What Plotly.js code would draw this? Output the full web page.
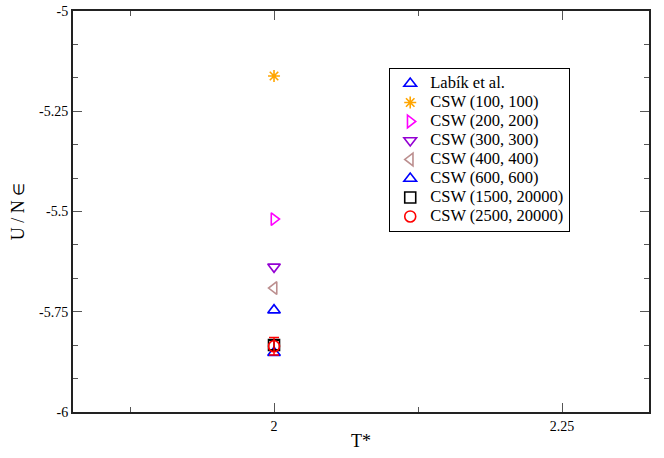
<!DOCTYPE html>
<html>
<head>
<meta charset="utf-8">
<script src="https://cdn.plot.ly/plotly-3.0.1.min.js"></script>
<style>html,body{margin:0;padding:0;background:#fff;}#chart{width:664px;height:458px;}</style>
</head>
<body>
<div id="chart"></div>
<script>
const seriesNames = ["Labík et al.", "CSW (100, 100)", "CSW (200, 200)", "CSW (300, 300)", "CSW (400, 400)", "CSW (600, 600)", "CSW (1500, 20000)", "CSW (2500, 20000)"];
const temperatures = [2, 2, 2, 2, 2, 2, 2, 2];
const energies = [-5.852, -5.162, -5.519, -5.638, -5.691, -5.746, -5.833, -5.836];
const energyErrors = [0, 0, 0, 0, 0, 0, 0.012, 0.022];
const symbols = ["triangle-up-open", "asterisk-open", "triangle-right-open", "triangle-down-open", "triangle-left-open", "triangle-up-open", "square-open", "circle-open"];
const colors = ["#0000ff", "#ffa500", "#ff00ff", "#9400d3", "#bc8f8f", "#0000ff", "#000000", "#ff0000"];
const yTickVals = [-6, -5.75, -5.5, -5.25, -5];
const yTickText = ["-6", "-5.75", "-5.5", "-5.25", "-5"];
const xTickVals = [2, 2.25];
const xTickText = ["2", "2.25"];

const font = "Liberation Serif, Times New Roman, serif";
const traces = seriesNames.map((name, i) => ({
  type: "scatter",
  mode: "markers",
  name: "<span style='font-size:16.5px'>" + name + "</span>",
  x: [temperatures[i]],
  y: [energies[i]],
  error_y: energyErrors[i] > 0 ? {type: "data", array: [energyErrors[i]], visible: true, color: colors[i], thickness: 1.5, width: 5} : {visible: false},
  marker: {symbol: symbols[i], color: colors[i], size: i === 1 ? 10 : 11, line: {color: colors[i], width: 1.6}}
}));

const layout = {
  width: 664, height: 458,
  margin: {l: 73, r: 15, t: 11, b: 46},
  paper_bgcolor: "#fff", plot_bgcolor: "#fff",
  font: {family: font, size: 14, color: "#000"},
  showlegend: true,
  legend: {
    x: 0.549, y: 0.858, xanchor: "left", yanchor: "top",
    bgcolor: "#fff", bordercolor: "#000", borderwidth: 1,
    font: {family: font, size: 12, color: "#000"},
    tracegroupgap: 0
  },
  xaxis: {
    range: [1.8255, 2.3255],
    tickvals: xTickVals, ticktext: xTickText,
    ticks: "inside", ticklen: 9, tickwidth: 1, tickcolor: "#555",
    showline: true, linecolor: "#222", linewidth: 2, mirror: "ticks",
    showgrid: false, zeroline: false,
    minor: {tick0: 2, dtick: 0.125, ticks: "inside", ticklen: 5, tickwidth: 1, tickcolor: "#555", showgrid: false},
    tickfont: {family: font, size: 14},
    title: {text: "T*", font: {family: font, size: 18}, standoff: 2}
  },
  yaxis: {
    range: [-6, -5],
    tickvals: yTickVals, ticktext: yTickText,
    ticks: "inside", ticklen: 9, tickwidth: 1, tickcolor: "#555",
    showline: true, linecolor: "#222", linewidth: 2, mirror: "ticks",
    showgrid: false, zeroline: false,
    minor: {tick0: -6, dtick: 1/12, ticks: "inside", ticklen: 5, tickwidth: 1, tickcolor: "#555", showgrid: false},
    tickfont: {family: font, size: 14},
    title: {text: "U / N <span style='font-size:15px'>∈</span>", font: {family: font, size: 18}, standoff: 10}
  }
};

Plotly.newPlot("chart", traces, layout, {displayModeBar: false, staticPlot: true});
</script>
</body>
</html>
